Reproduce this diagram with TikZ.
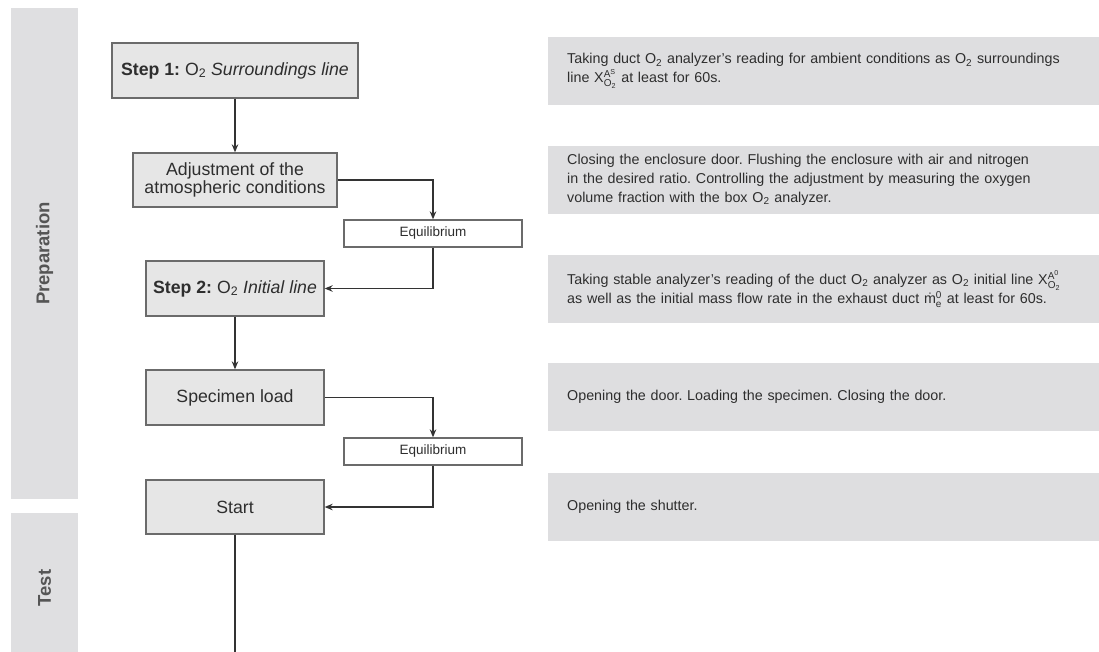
\documentclass[tikz,border=0pt]{standalone}
\usepackage{amsmath}
\usepackage{fontspec}
\setmainfont{Liberation Sans}
\usepackage{xcolor}
\usetikzlibrary{positioning, calc, arrows.meta}
\frenchspacing

\definecolor{boxgray}{HTML}{E6E6E6}
\definecolor{notegray}{HTML}{DEDEE0}
\definecolor{bandgray}{HTML}{DFDFE1}
\definecolor{edgegray}{HTML}{6B6B6B}
\definecolor{linegray}{HTML}{333333}
\definecolor{txt}{HTML}{2E2E2E}
\definecolor{labgray}{HTML}{555555}

\newcommand{\Otwo}{O\textsubscript{2}}
\newcommand{\XO}[1]{$\mathrm{X}^{\mathrm{A}^{\mathrm{#1}}}_{\mathrm{O}_{\mathrm{2}}}$}

\begin{document}
\begin{tikzpicture}[x=1pt, y=-1pt,
    flow/.style={draw=edgegray, line width=1.3pt, fill=boxgray, text=txt, align=center,
        font=\fontsize{17.7}{18}\selectfont, inner sep=0pt, minimum width=178pt, minimum height=55pt},
    eqbox/.style={draw=edgegray, line width=1.3pt, fill=white, text=txt,
        font=\fontsize{13.5}{15}\selectfont, inner sep=0pt, minimum width=178pt, minimum height=27pt},
    note/.style={fill=notegray, anchor=west, text width=532pt, inner xsep=19pt, inner ysep=0pt,
        minimum height=68pt, align=left, text=txt, font=\fontsize{14.3}{19}\selectfont},
    band/.style={fill=bandgray, rotate=90, minimum height=67pt, inner sep=0pt, text=labgray,
        font=\bfseries\fontsize{18.5}{20}\selectfont},
    link/.style={draw=linegray, line width=1.3pt, -{Stealth[length=8pt, width=6.5pt]}}]

    \useasboundingbox (0,0) rectangle (1099,652);

    % Phase bands
    \node[band, minimum width=491pt] (prep) at (44.5, 253.5) {Preparation};
    \node[band, minimum width=150pt] (test) at (44.5, 588) {Test};

    % Flow chart
    \node[flow, minimum width=246pt] (step1) at (235, 70.5) {\textbf{Step 1:} \Otwo{} \textit{Surroundings line}};
    \node[flow, minimum width=204pt, minimum height=54pt] (adjust) at (235, 180) {Adjustment of the\\atmospheric conditions};
    \node[eqbox] (equi1) at (433, 233.5) {Equilibrium};
    \node[flow] (step2) at (235, 288.5) {\textbf{Step 2:} \Otwo{} \textit{Initial line}};
    \node[flow] (load) at (235, 397.5) {Specimen load};
    \node[eqbox] (equi2) at (433, 451.5) {Equilibrium};
    \node[flow, minimum height=54pt] (start) at (235, 507) {Start};
    \coordinate (end) at (235, 652);

    % Connectors
    \draw[link] (step1) -- (adjust);
    \draw[link] (adjust.east) -| (equi1.north);
    \draw[link] (equi1.south) |- (step2.east);
    \draw[link] (step2) -- (load);
    \draw[link] (load.east) -| (equi2.north);
    \draw[link] (equi2.south) |- (start.east);
    \draw[draw=linegray, line width=1.3pt] (start) -- (end);

    % Descriptions
    \node[note] (note1) at (548, 71) {Taking duct \Otwo{} analyzer's reading for ambient conditions as \Otwo{} surroundings\\line \XO{S} at least for 60s.};
    \node[note] (note2) at (548, 180) {Closing the enclosure door. Flushing the enclosure with air and nitrogen\\in the desired ratio. Controlling the adjustment by measuring the oxygen\\volume fraction with the box \Otwo{} analyzer.};
    \node[note] (note3) at (548, 289) {Taking stable analyzer's reading of the duct \Otwo{} analyzer as \Otwo{} initial line \XO{0}\\as well as the initial mass flow rate in the exhaust duct $\dot{\mathrm{m}}^{\mathrm{0}}_{\mathrm{e}}$ at least for 60s.};
    \node[note] (note4) at (548, 397) {Opening the door. Loading the specimen. Closing the door.};
    \node[note] (note5) at (548, 507) {Opening the shutter.};
\end{tikzpicture}
\end{document}
